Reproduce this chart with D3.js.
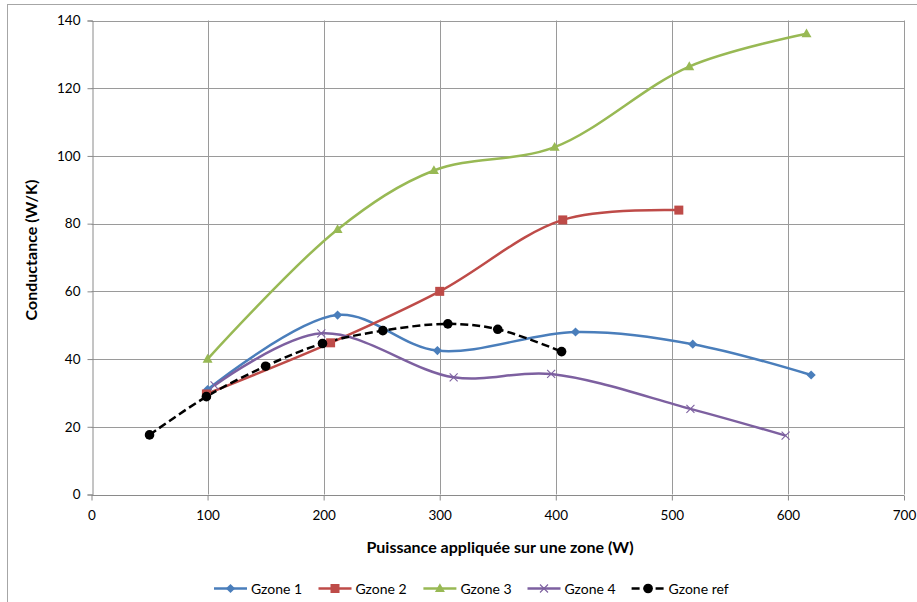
<!DOCTYPE html>
<html>
<head>
<meta charset="utf-8">
<script src="https://cdn.jsdelivr.net/npm/d3@7"></script>
<style>
  html, body { margin: 0; padding: 0; background: #fff; }
  svg { display: block; }
  text { font-family: Lato, "Open Sans", sans-serif; fill: #000; }
</style>
</head>
<body>
<svg id="chart" width="917" height="602"></svg>
<script>
// Conductance per zone versus applied power
const seriesNames = ["Gzone 1", "Gzone 2", "Gzone 3", "Gzone 4", "Gzone ref"];

const zone1Power = [100, 212, 298, 417, 518, 620];
const zone1Cond  = [31.0, 53.0, 42.5, 48.0, 44.4, 35.3];

const zone2Power = [99, 206, 300, 406, 506];
const zone2Cond  = [29.7, 44.8, 60.0, 81.1, 84.0];

const zone3Power = [100, 212, 295, 399, 515, 616];
const zone3Cond  = [40.0, 78.3, 95.7, 102.6, 126.4, 136.1];

const zone4Power = [106, 198, 312, 396, 516, 598];
const zone4Cond  = [32.2, 47.6, 34.6, 35.6, 25.3, 17.4];

const refPower = [50, 99, 150, 199, 251, 307, 350, 405];
const refCond  = [17.6, 28.9, 37.9, 44.6, 48.4, 50.4, 48.8, 42.2];

const xTicks = [0, 100, 200, 300, 400, 500, 600, 700];
const yTicks = [0, 20, 40, 60, 80, 100, 120, 140];

const xTitle = "Puissance appliquée sur une zone (W)";
const yTitle = "Conductance (W/K)";

const zip = (xs, ys) => xs.map((x, i) => ({ x, y: ys[i] }));
const series = [
  { name: seriesNames[0], pts: zip(zone1Power, zone1Cond), color: "#4A7EBB", marker: "diamond", dash: null },
  { name: seriesNames[1], pts: zip(zone2Power, zone2Cond), color: "#BE4B48", marker: "square",  dash: null },
  { name: seriesNames[2], pts: zip(zone3Power, zone3Cond), color: "#98B954", marker: "triangle", dash: null },
  { name: seriesNames[3], pts: zip(zone4Power, zone4Cond), color: "#7D60A0", marker: "cross",   dash: null },
  { name: seriesNames[4], pts: zip(refPower, refCond),     color: "#000000", marker: "circle",  dash: "8,4" }
];

const svg = d3.select("#chart");

// outer chart frame
svg.append("rect")
  .attr("x", 7.5).attr("y", 4.5)
  .attr("width", 930).attr("height", 620)
  .attr("fill", "none").attr("stroke", "#A6A6A6").attr("stroke-width", 1);

const x = d3.scaleLinear().domain([0, 700]).range([91.5, 904]);
const y = d3.scaleLinear().domain([0, 140]).range([494.5, 20.5]);

const grid = svg.append("g");
grid.selectAll(".vg").data(xTicks.slice(1)).join("line")
  .attr("x1", d => Math.round(x(d)) + 0.5).attr("x2", d => Math.round(x(d)) + 0.5)
  .attr("y1", y(140)).attr("y2", y(0))
  .attr("stroke", "#9A9A9A").attr("stroke-width", 1);
grid.selectAll(".hg").data(yTicks.slice(1)).join("line")
  .attr("x1", x(0)).attr("x2", x(700))
  .attr("y1", d => Math.round(y(d)) + 0.5).attr("y2", d => Math.round(y(d)) + 0.5)
  .attr("stroke", "#9A9A9A").attr("stroke-width", 1);

// axes
const xAxis = d3.axisBottom(x).tickValues(xTicks).tickSize(5).tickPadding(10).tickFormat(d3.format("d"));
const yAxis = d3.axisLeft(y).tickValues(yTicks).tickSize(5).tickPadding(7).tickFormat(d3.format("d"));

const gx = svg.append("g").attr("transform", `translate(0,${Math.round(y(0)) + 0.5})`).call(xAxis);
const gy = svg.append("g").attr("transform", `translate(${Math.round(x(0)) + 0.5},0)`).call(yAxis);
[gx, gy].forEach(g => {
  g.selectAll(".domain, .tick line").attr("stroke", "#8A8A8A").attr("stroke-width", 1);
  g.selectAll(".tick text").attr("font-size", 13.5).attr("font-family", "Lato, sans-serif").attr("fill", "#000");
});
gx.select(".domain").attr("d", `M${x(0)},0H${x(700)}`);

svg.append("text")
  .attr("x", 500).attr("y", 553)
  .attr("text-anchor", "middle")
  .attr("font-weight", "bold").attr("font-size", 16)
  .text(xTitle);

svg.append("text")
  .attr("transform", "translate(37,250) rotate(-90)")
  .attr("text-anchor", "middle")
  .attr("font-weight", "bold").attr("font-size", 16)
  .text(yTitle);

// marker drawing
function drawMarker(sel, type, color) {
  if (type === "diamond") {
    sel.append("path").attr("d", "M0,-4.6L4.6,0L0,4.6L-4.6,0Z").attr("fill", color);
  } else if (type === "square") {
    sel.append("rect").attr("x", -4.5).attr("y", -4.5).attr("width", 9).attr("height", 9).attr("fill", color);
  } else if (type === "triangle") {
    sel.append("path").attr("d", "M0,-5.2L5,3.6L-5,3.6Z").attr("fill", color);
  } else if (type === "cross") {
    sel.append("path").attr("d", "M-4,-4L4,4M-4,4L4,-4").attr("stroke", color).attr("stroke-width", 1.1).attr("fill", "none");
  } else if (type === "circle") {
    sel.append("circle").attr("r", 4.8).attr("fill", color);
  }
}

const line = d3.line().x(d => x(d.x)).y(d => y(d.y)).curve(d3.curveCatmullRom.alpha(0.5));

const plot = svg.append("g");
series.forEach(s => {
  plot.append("path")
    .attr("d", line(s.pts))
    .attr("fill", "none")
    .attr("stroke", s.color)
    .attr("stroke-width", 2.5)
    .attr("stroke-dasharray", s.dash)
    .attr("stroke-linejoin", "round");
});
series.forEach(s => {
  plot.append("g").selectAll("g").data(s.pts).join("g")
    .attr("transform", d => `translate(${x(d.x)},${y(d.y)})`)
    .each(function () { drawMarker(d3.select(this), s.marker, s.color); });
});

// legend
const legendX = [214, 318.5, 423.4, 527.5, 631.6];
const legendY = 588.5;
const legend = svg.append("g");
series.forEach((s, i) => {
  const g = legend.append("g").attr("transform", `translate(${legendX[i]},${legendY})`);
  g.append("line").attr("x1", 0).attr("x2", 33).attr("y1", 0).attr("y2", 0)
    .attr("stroke", s.color).attr("stroke-width", 2.5).attr("stroke-dasharray", s.dash);
  const m = g.append("g").attr("transform", "translate(16.5,0)");
  drawMarker(m, s.marker, s.color);
  g.append("text").attr("x", 37).attr("y", 5).attr("font-size", 14).text(s.name);
});
</script>
</body>
</html>
